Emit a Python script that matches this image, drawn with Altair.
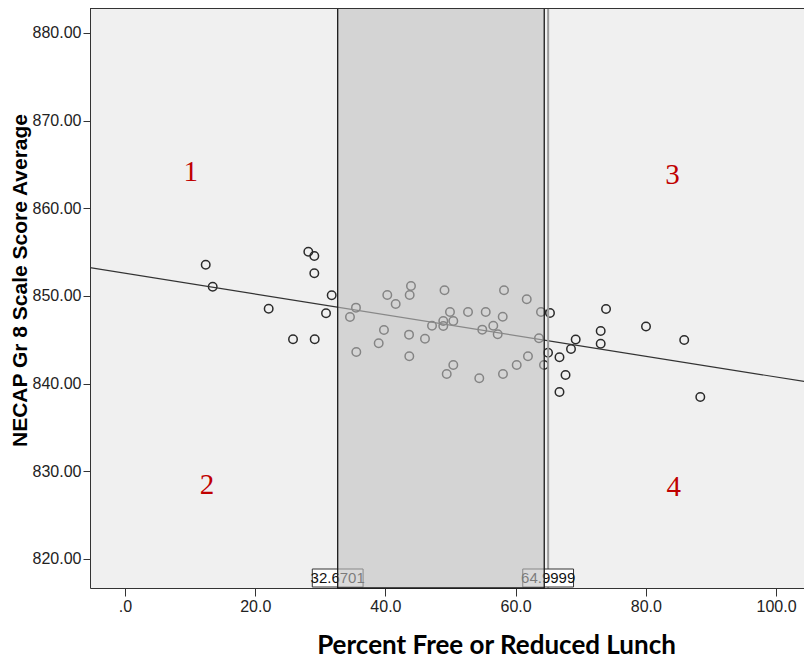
import altair as alt
import pandas as pd

# ---- data ----
frl_pct = [12.40, 13.47, 22.07, 25.81, 28.16, 29.08, 29.08, 29.14, 30.88, 31.75,
           34.56, 35.48, 35.53, 38.97, 39.78, 40.29, 41.58, 43.73, 43.93, 43.63,
           43.67, 46.08, 47.16, 48.89, 48.89, 49.08, 49.42, 49.92, 50.43, 50.43,
           52.69, 54.42, 54.88, 55.41, 56.57, 57.25, 58.02, 58.06, 58.22, 60.17,
           61.71, 61.90, 63.59, 63.90, 64.36,
           65.28, 64.98, 66.74, 67.67, 66.74, 68.51, 69.23, 73.07, 73.07, 73.89,
           80.03, 85.90, 88.37]
necap_avg = [853.57, 851.06, 848.55, 845.06, 855.05, 854.56, 852.59, 845.06, 848.03, 850.08,
             847.61, 848.67, 843.61, 844.61, 846.12, 850.12, 849.09, 850.12, 851.14, 845.59,
             843.12, 845.13, 846.61, 847.15, 846.58, 850.65, 841.10, 848.18, 847.15, 842.13,
             848.18, 840.61, 846.16, 848.18, 846.61, 845.63, 847.64, 841.10, 850.65, 842.13,
             849.62, 843.12, 845.18, 848.18, 842.13,
             848.06, 843.53, 843.01, 840.99, 839.05, 843.96, 845.04, 846.01, 844.56, 848.52,
             846.52, 844.98, 838.48]

fit_x = [-5.4, 105.5]
fit_y = [853.23, 840.11]

ref_values = [32.6701, 64.9999]
ref_labels = ["32.6701", "64.9999"]
shade_from = [32.6701]
shade_to = [64.4]

quad_labels = ["1", "2", "3", "4"]
quad_x = [10.1, 12.6, 84.1, 84.3]
quad_y = [864.1, 828.4, 863.8, 828.2]

x_ticks = [0, 20, 40, 60, 80, 100]
y_ticks = [820, 830, 840, 850, 860, 870, 880]

X_TITLE = "Percent Free or Reduced Lunch"
Y_TITLE = "NECAP Gr 8 Scale Score Average"

# ---- layout ----
PLOT_W = 714
PLOT_H = 580
X_DOMAIN = [-5.376, 104.3]
Y_DOMAIN = [816.69, 882.85]
NARROW = "Liberation Sans Narrow, Arial Narrow, Liberation Sans"

xs = alt.Scale(domain=X_DOMAIN, nice=False, zero=False)
ys = alt.Scale(domain=Y_DOMAIN, nice=False, zero=False)

x_axis = alt.Axis(values=x_ticks, labelExpr="datum.value == 0 ? '.0' : format(datum.value, '.1f')",
                  tickSize=8, labelPadding=2, titleFont="Lato", titleFontSize=26,
                  titleFontWeight="bold", titleColor="#000", titleX=406, titleY=57,
                  titleBaseline="middle", titleAlign="center")
y_axis = alt.Axis(values=y_ticks, format=".2f", tickSize=7, labelPadding=2,
                  titleFont="Liberation Sans", titleFontSize=21, titleFontWeight="bold",
                  titleColor="#000", titleX=-81, titleY=272, titleBaseline="top",
                  titleAlign="center")


def X(field):
    return alt.X(field, scale=xs, axis=x_axis, title=X_TITLE)


def Y(field):
    return alt.Y(field, scale=ys, axis=y_axis, title=Y_TITLE)


pts = pd.DataFrame({"frl": frl_pct, "necap": necap_avg})
points = alt.Chart(pts).mark_point(shape="circle", filled=False, size=72, color="#2a2a2a",
                                   strokeWidth=1.5, opacity=1).encode(
    x=X("frl:Q"), y=Y("necap:Q"))

fit = alt.Chart(pd.DataFrame({"frl": fit_x, "necap": fit_y})).mark_line(
    color="#333", strokeWidth=1.2, clip=True).encode(x=X("frl:Q"), y=Y("necap:Q"))

ref_df = pd.DataFrame({"frl": ref_values, "lab": ref_labels})
rule65 = alt.Chart(ref_df.iloc[[1]]).mark_rule(color="#9a9a9a", strokeWidth=2).encode(
    x=X("frl:Q"))

boxes = alt.Chart(ref_df).transform_calculate(
    lo="datum.frl - 3.9", hi="datum.frl + 3.9"
).mark_rect(fill="white", stroke="#333", strokeWidth=1).encode(
    x=X("lo:Q"), x2="hi:Q",
    y=alt.value(PLOT_H - 19), y2=alt.value(PLOT_H - 1))

box_text = alt.Chart(ref_df).mark_text(font=NARROW, fontSize=15, color="#111",
                                       baseline="middle", align="center").encode(
    x=X("frl:Q"), y=alt.value(PLOT_H - 10), text="lab:N")

shade = alt.Chart(pd.DataFrame({"a": shade_from, "b": shade_to})).mark_rect(
    fill="#c1c1c1", fillOpacity=0.6, stroke="#1a1a1a", strokeWidth=1.3).encode(
    x=X("a:Q"), x2="b:Q", y=alt.value(0), y2=alt.value(PLOT_H))

quads = alt.Chart(pd.DataFrame({"frl": quad_x, "necap": quad_y, "q": quad_labels})).mark_text(
    font="Liberation Serif", fontSize=29, color="#c00000", baseline="middle", align="center"
).encode(x=X("frl:Q"), y=Y("necap:Q"), text="q:N")

top_edge = alt.Chart(pd.DataFrame({"frl": [X_DOMAIN[0]]})).mark_rule(
    color="#333", strokeWidth=1).encode(x=alt.value(0), x2=alt.value(PLOT_W), y=alt.value(0.5))

chart = alt.layer(points, fit, rule65, boxes, box_text, shade, quads, top_edge).properties(
    width=PLOT_W, height=PLOT_H,
    autosize=alt.AutoSizeParams(type="none"),
    padding={"left": 82, "top": 0, "right": 0, "bottom": 72},
    background="white",
).configure_view(fill="#f0f0f0", strokeWidth=0).configure_axis(
    domainColor="#333", tickColor="#333", labelColor="#222", grid=False,
    labelFont=NARROW, labelFontSize=16, domainWidth=1, tickWidth=1,
)

chart.save("out.html", embed_options={"renderer": "svg", "actions": False})
